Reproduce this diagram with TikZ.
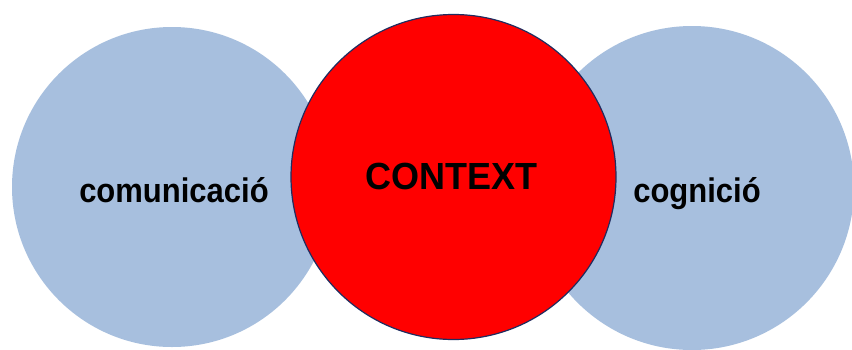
\documentclass[tikz,border=0pt]{standalone}
\usepackage{fontspec}
\setmainfont{Liberation Sans}
\definecolor{bluecirc}{RGB}{167,191,222}
\definecolor{redcirc}{RGB}{255,0,0}
\definecolor{navyedge}{RGB}{31,45,96}
\begin{document}
\begin{tikzpicture}[x=1pt,y=-1pt,
  bluedisc/.style={circle,fill=bluecirc,draw=none,inner sep=0pt},
  reddisc/.style={circle,fill=redcirc,draw=navyedge,line width=1.2pt,inner sep=0pt},
  label/.style={anchor=base,inner sep=0pt,text=black}]
\useasboundingbox (0,0) rectangle (852,349);
\fill[white] (0,0) rectangle (852,349);
\node[bluedisc,minimum size=320pt] (left) at (172,187) {};
\node[bluedisc,minimum size=324pt] (right) at (692,188) {};
\node[reddisc,minimum size=325pt] (mid) at (453.5,177) {};
\node[label,font=\fontsize{36}{40}\selectfont\bfseries,yscale=1.05] (ctx) at (451.5,189) {CONTEXT};
\node[label,font=\fontsize{31}{36}\selectfont\bfseries,yscale=1.1] (com) at (174,202) {comunicació};
\node[label,font=\fontsize{31}{36}\selectfont\bfseries,yscale=1.1] (cog) at (697,202) {cognició};
\end{tikzpicture}
\end{document}
